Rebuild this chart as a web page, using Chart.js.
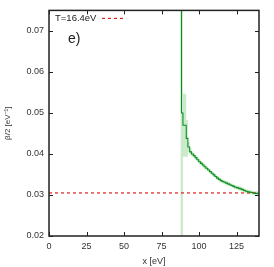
<!DOCTYPE html>
<html>
<head>
<meta charset="utf-8">
<script src="https://cdn.jsdelivr.net/npm/chart.js@4.4.1/dist/chart.umd.min.js"></script>
<style>
  html, body { margin: 0; padding: 0; background: #fff; }
  #wrap { width: 274px; height: 267px; }
</style>
</head>
<body>
<div id="wrap"><canvas id="betaChart" width="274" height="267"></canvas></div>
<script>
// bin left edges [eV] and beta/2 values
const energy = [87.6, 88.3, 89.3, 91.5, 92.6, 93.8, 95.0, 96.2, 97.4, 98.6, 99.8,
  101.0, 102.2, 103.4, 104.6, 105.8, 107.0, 108.2, 109.4, 110.6, 111.8,
  113.0, 114.2, 115.4, 116.6, 117.8, 119.0, 120.2, 121.4, 122.6, 123.8,
  125.0, 126.2, 127.4, 128.6, 129.8, 131.0, 132.2, 133.4, 134.6, 135.8,
  137.0, 138.2, 139.4, 140.5];
const beta = [0.2, 0.0500, 0.0470, 0.0438, 0.0417, 0.0405, 0.0400, 0.0396, 0.0391, 0.0386, 0.0381,
  0.0377, 0.0373, 0.0369, 0.0365, 0.0361, 0.0357, 0.0353, 0.0349, 0.0345, 0.0341,
  0.0338, 0.0335, 0.0333, 0.0331, 0.0329, 0.0327, 0.0325, 0.0323, 0.0321, 0.0319,
  0.0318, 0.0316, 0.0315, 0.0313, 0.0311, 0.0309, 0.0308, 0.0307, 0.0306, 0.0305,
  0.0304, 0.0304, 0.0303, 0.0303];
// error band half width
const err = [1, 1, 0.0077, 0.0045, 0.0012, 0.0008, 0.0006, 0.0006, 0.0006, 0.0006, 0.0006,
  0.0006, 0.0006, 0.0006, 0.0005, 0.0005, 0.0005, 0.0005, 0.0005, 0.0005, 0.0005,
  0.0005, 0.0005, 0.0005, 0.0005, 0.0005, 0.0005, 0.0005, 0.0005, 0.0005, 0.0005,
  0.0005, 0.0005, 0.0005, 0.0005, 0.0005, 0.0005, 0.0005, 0.0005, 0.0005, 0.0005,
  0.0005, 0.0005, 0.0005, 0.0005];
const refLevel = 0.0305;
const refLabel = "T=16.4eV";
const panelLabel = "e)";
const xTickValues = [0, 25, 50, 75, 100, 125];
const yTickValues = [0.02, 0.03, 0.04, 0.05, 0.06, 0.07];
const xRange = [0, 140];
const yRange = [0.02, 0.075];

const FONT = "'Liberation Sans', Arial, sans-serif";

const curve = energy.map((x, i) => ({ x: x, y: beta[i] }));
const bandHi = energy.map((x, i) => ({ x: x, y: beta[i] + err[i] }));
const bandLo = energy.map((x, i) => ({ x: x, y: beta[i] - err[i] }));
const refLine = xRange.map(x => ({ x: x, y: refLevel }));

// frame, inward ticks, legend and panel label
const framePlugin = {
  id: "frame",
  afterDraw(chart) {
    const ctx = chart.ctx;
    const a = chart.chartArea;
    const xs = chart.scales.x, ys = chart.scales.y;
    const tl = 4;
    ctx.save();
    ctx.strokeStyle = "#222";
    ctx.lineWidth = 1;
    ctx.beginPath();
    xs.ticks.forEach(t => {
      const px = Math.round(xs.getPixelForValue(t.value)) + 0.5;
      ctx.moveTo(px, a.bottom); ctx.lineTo(px, a.bottom - tl);
      ctx.moveTo(px, a.top); ctx.lineTo(px, a.top + tl);
    });
    ys.ticks.forEach(t => {
      const py = Math.round(ys.getPixelForValue(t.value)) + 0.5;
      ctx.moveTo(a.left, py); ctx.lineTo(a.left + tl, py);
      ctx.moveTo(a.right, py); ctx.lineTo(a.right - tl, py);
    });
    ctx.stroke();
    ctx.lineWidth = 1.5;
    ctx.strokeRect(a.left, a.top, a.right - a.left, a.bottom - a.top);

    // legend
    ctx.fillStyle = "#222";
    ctx.font = "9.5px " + FONT;
    ctx.textBaseline = "middle";
    ctx.textAlign = "left";
    ctx.fillText(refLabel, a.left + 6, a.top + 8);
    ctx.strokeStyle = "#e02020";
    ctx.lineWidth = 1.2;
    ctx.setLineDash([3, 3]);
    ctx.beginPath();
    ctx.moveTo(a.left + 53, a.top + 8);
    ctx.lineTo(a.left + 75, a.top + 8);
    ctx.stroke();
    ctx.setLineDash([]);

    ctx.font = "14px " + FONT;
    ctx.fillText(panelLabel, a.left + 19, a.top + 29);
    ctx.restore();
  }
};

new Chart(document.getElementById("betaChart"), {
  type: "line",
  data: {
    datasets: [
      {
        data: bandHi,
        order: 3,
        stepped: true,
        borderWidth: 0,
        pointRadius: 0,
        backgroundColor: "rgba(160, 215, 160, 0.55)",
        fill: "+1",
      },
      {
        data: bandLo,
        order: 3,
        stepped: true,
        borderWidth: 0,
        pointRadius: 0,
        fill: false,
      },
      {
        data: refLine,
        order: 2,
        borderColor: "#e02020",
        borderWidth: 1.2,
        borderDash: [3, 3],
        pointRadius: 0,
        fill: false,
      },
      {
        data: curve,
        order: 1,
        stepped: true,
        borderColor: "#0a8f1e",
        borderWidth: 1.1,
        pointRadius: 0,
        fill: false,
      },
    ],
  },
  options: {
    responsive: false,
    animation: false,
    events: [],
    layout: { padding: { top: 10, right: 15, bottom: 0, left: 0 } },
    plugins: {
      legend: { display: false },
      tooltip: { enabled: false },
    },
    scales: {
      x: {
        type: "linear",
        min: xRange[0],
        max: xRange[1],
        grid: { display: false, drawTicks: false },
        border: { display: false },
        ticks: {
          padding: 5,
          autoSkip: false,
          color: "#333",
          font: { family: FONT, size: 9 },
          maxRotation: 0,
        },
        afterBuildTicks: s => { s.ticks = xTickValues.map(v => ({ value: v })); },
        afterFit: s => { s.height = 31; },
        title: {
          display: true,
          text: "x [eV]",
          color: "#333",
          font: { family: FONT, size: 9 },
          padding: { top: 2, bottom: 0 },
        },
      },
      y: {
        type: "linear",
        min: yRange[0],
        max: yRange[1],
        grid: { display: false, drawTicks: false },
        border: { display: false },
        ticks: {
          padding: 5,
          autoSkip: false,
          color: "#333",
          font: { family: FONT, size: 9 },
          callback: v => v.toFixed(2),
        },
        afterBuildTicks: s => { s.ticks = yTickValues.map(v => ({ value: v })); },
        afterFit: s => { s.width = 49; },
        title: {
          display: true,
          text: "β/2 [eV⁻¹]",
          color: "#333",
          font: { family: FONT, size: 8 },
          padding: { top: 3, bottom: 0 },
        },
      },
    },
  },
  plugins: [framePlugin],
});
</script>
</body>
</html>
